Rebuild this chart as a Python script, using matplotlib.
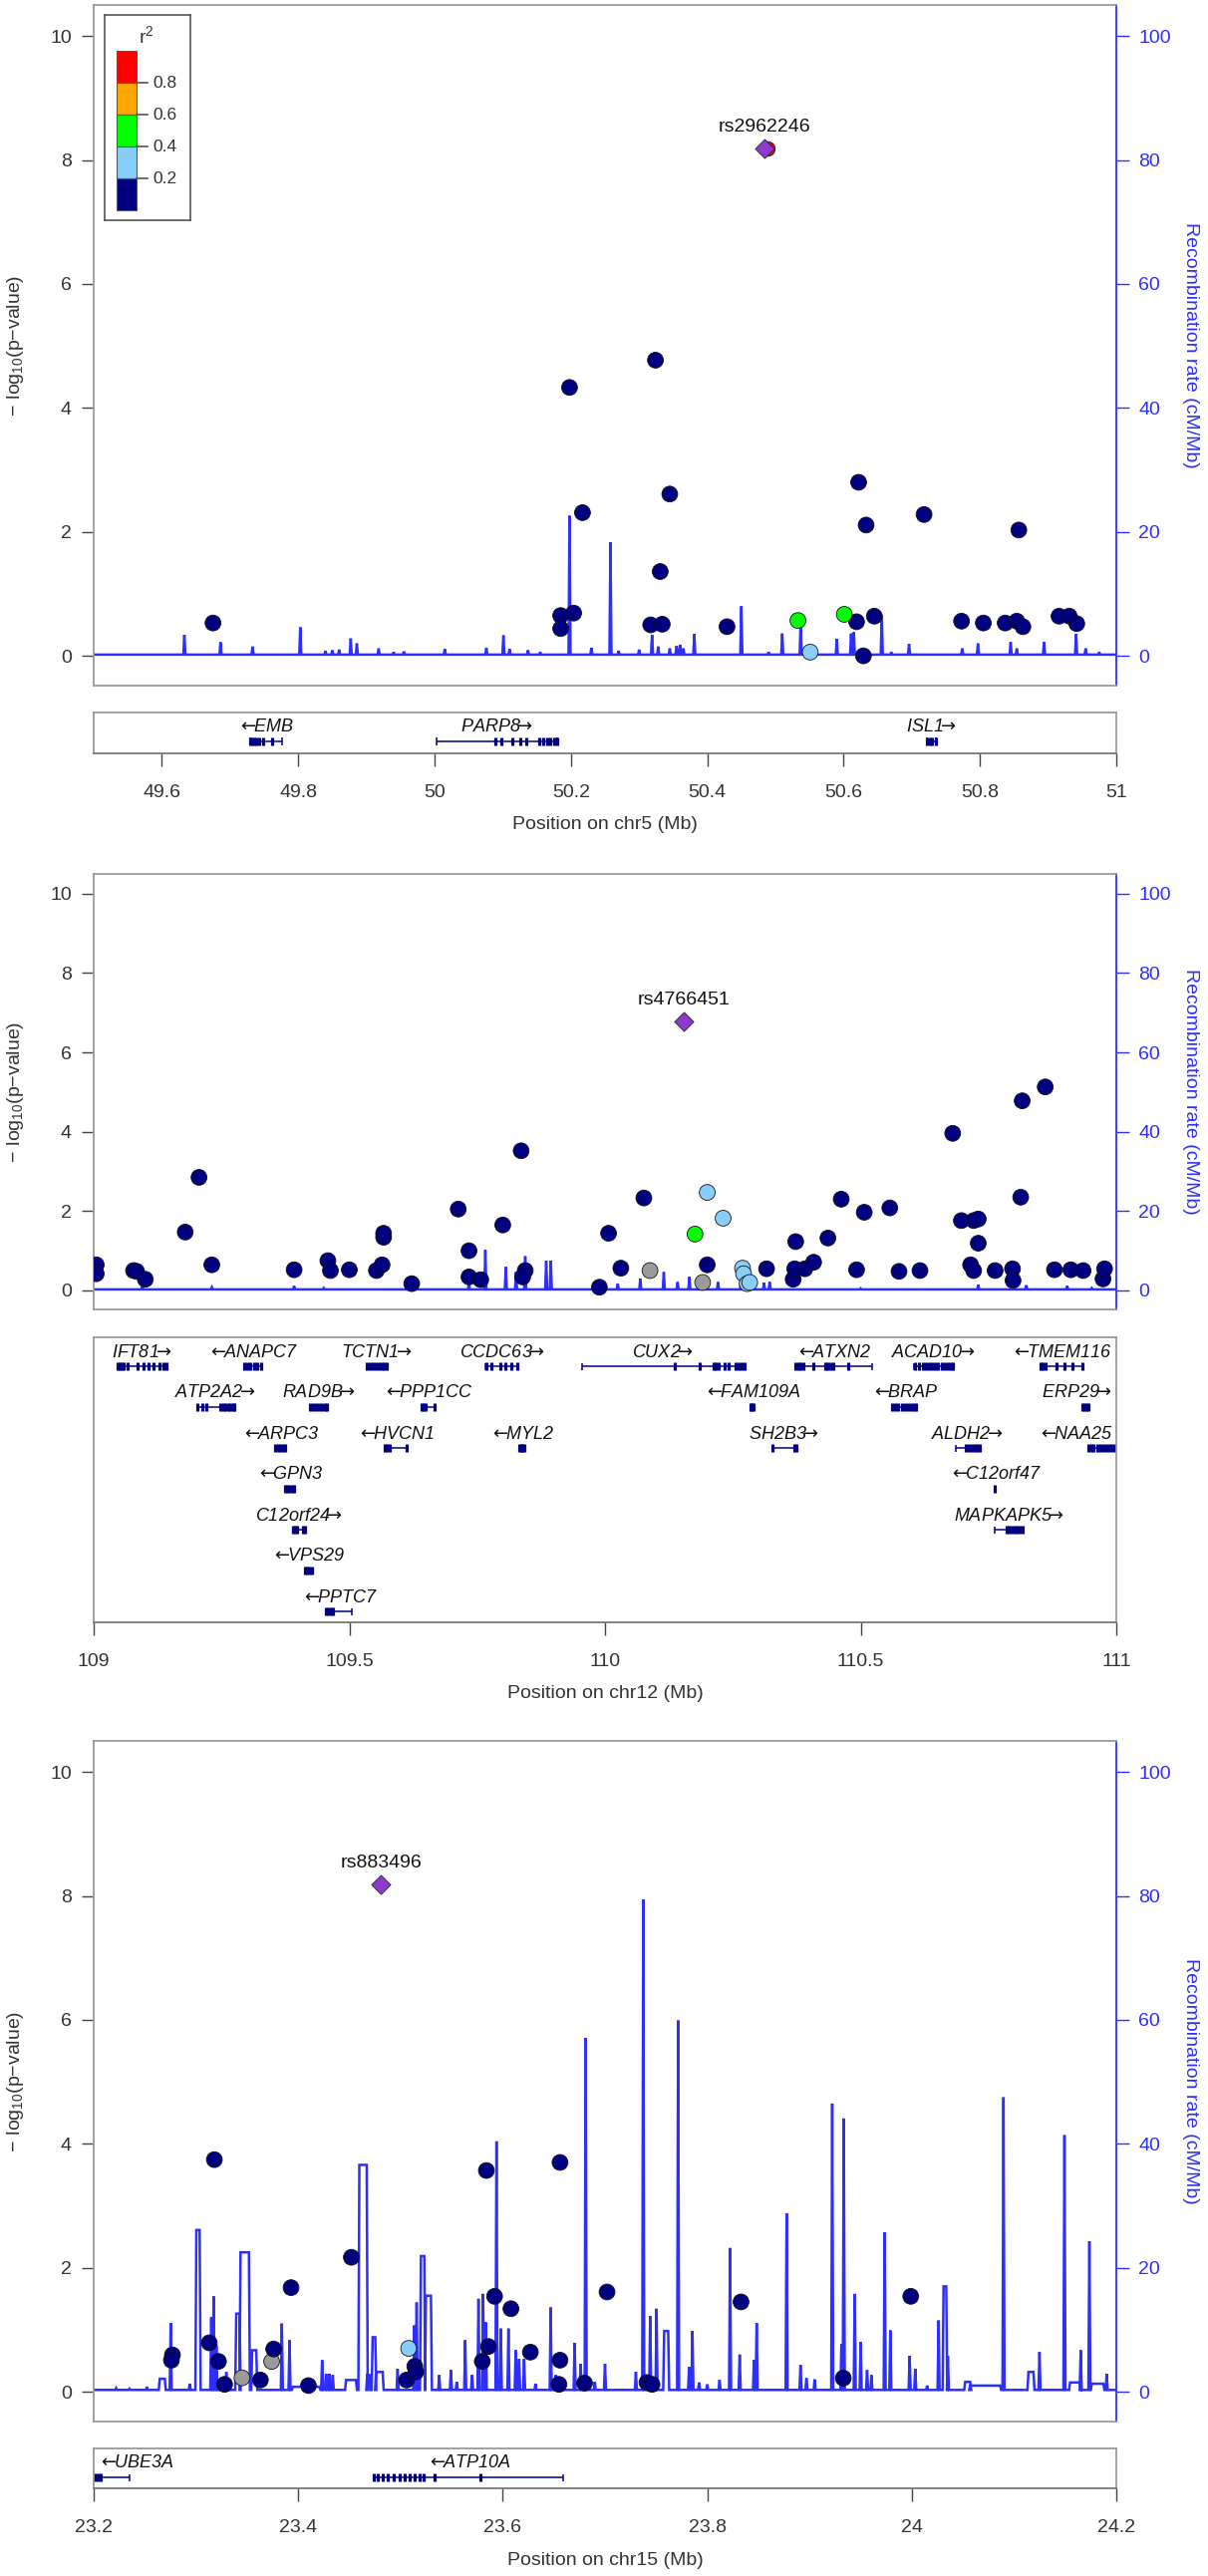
import numpy as np
import matplotlib
matplotlib.use("Agg")
import matplotlib.pyplot as plt
from matplotlib.patches import Rectangle

plt.rcParams['font.family'] = ['Liberation Sans', 'DejaVu Sans']

# ------------------------------------------------------------------ data
# ---- panel 1 : chr5
chr5_pos = [49.675, 50.185, 50.185, 50.204, 50.198, 50.217, 50.317, 50.334, 50.324, 50.331,
            50.345, 50.429, 50.533, 50.551, 50.601, 50.619, 50.622, 50.629, 50.633, 50.645,
            50.718, 50.773, 50.805, 50.837, 50.854, 50.857, 50.863, 50.916, 50.931, 50.942]
chr5_logp = [0.53, 0.65, 0.44, 0.69, 4.33, 2.31, 0.50, 0.51, 4.77, 1.36,
             2.61, 0.47, 0.57, 0.06, 0.67, 0.55, 2.80, 0.00, 2.11, 0.64,
             2.28, 0.56, 0.53, 0.53, 0.56, 2.03, 0.47, 0.64, 0.64, 0.52]
chr5_r2 = [0.05] * 12 + [0.5, 0.3, 0.5] + [0.05] * 15
chr5_lead_pos, chr5_lead_logp, chr5_lead_name = 50.484, 8.18, "rs2962246"
chr5_rec_base = 0.2
chr5_rec_spikes = [(49.633, 3.4), (49.686, 2.2), (49.733, 1.5), (49.803, 4.6), (49.84, 0.8),
                   (49.85, 0.9), (49.86, 1.0), (49.877, 2.8), (49.886, 2.0), (49.918, 1.2),
                   (49.94, 0.6), (49.955, 0.7), (50.015, 1.1), (50.076, 1.3), (50.101, 3.3),
                   (50.11, 1.1), (50.137, 0.9), (50.155, 0.6), (50.198, 22.6), (50.23, 1.3),
                   (50.258, 18.3), (50.27, 0.8), (50.30, 1.0), (50.319, 3.4), (50.328, 1.5),
                   (50.345, 1.2), (50.355, 1.6), (50.36, 1.8), (50.365, 1.2), (50.381, 3.5),
                   (50.450, 8.0), (50.49, 0.6), (50.51, 3.6), (50.537, 5.2), (50.59, 2.7),
                   (50.611, 3.6), (50.615, 3.8), (50.656, 6.6), (50.67, 0.6), (50.696, 1.9),
                   (50.774, 1.2), (50.797, 2.0), (50.845, 2.2), (50.854, 1.2), (50.894, 2.2),
                   (50.941, 3.5), (50.955, 1.2), (50.975, 0.6)]
chr5_gene_names = ["EMB", "PARP8", "ISL1"]
chr5_gene_start = [49.729, 50.003, 50.722]
chr5_gene_end = [49.776, 50.180, 50.735]
chr5_gene_strand = ["-", "+", "+"]
chr5_gene_row = [0, 0, 0]
chr5_gene_exons = [[49.729, 49.732, 49.735, 49.738, 49.742, 49.748, 49.762],
                   [50.089, 50.098, 50.114, 50.125, 50.134, 50.153, 50.16, 50.165, 50.17, 50.175, 50.18],
                   [50.722, 50.726, 50.73, 50.735]]

# ---- panel 2 : chr12
chr12_pos = [109.005, 109.005, 109.078, 109.084, 109.101, 109.179, 109.206, 109.231, 109.392, 109.458,
             109.463, 109.500, 109.553, 109.564, 109.567, 109.567, 109.622, 109.713, 109.734, 109.734,
             109.757, 109.800, 109.836, 109.844, 109.839, 109.989, 110.007, 110.031, 110.076, 110.088,
             110.176, 110.191, 110.200, 110.200, 110.231, 110.269, 110.271, 110.278, 110.283, 110.316,
             110.368, 110.371, 110.373, 110.391, 110.408, 110.436, 110.462, 110.492, 110.507, 110.557,
             110.575, 110.616, 110.680, 110.697, 110.721, 110.730, 110.730, 110.715, 110.721, 110.763,
             110.797, 110.798, 110.813, 110.816, 110.861, 110.879, 110.911, 110.935, 110.974, 110.977]
chr12_logp = [0.645, 0.42, 0.50, 0.48, 0.28, 1.47, 2.85, 0.645, 0.52, 0.75,
              0.50, 0.52, 0.50, 0.645, 1.34, 1.44, 0.17, 2.05, 1.00, 0.34,
              0.27, 1.65, 3.52, 0.50, 0.34, 0.08, 1.44, 0.56, 2.33, 0.50,
              1.42, 0.20, 2.47, 0.645, 1.82, 0.56, 0.42, 0.17, 0.20, 0.545,
              0.28, 0.545, 1.23, 0.545, 0.71, 1.32, 2.30, 0.52, 1.97, 2.08,
              0.48, 0.50, 3.96, 1.76, 1.76, 1.80, 1.19, 0.645, 0.50, 0.50,
              0.545, 0.25, 2.35, 4.78, 5.13, 0.52, 0.52, 0.50, 0.29, 0.545]
chr12_r2 = ([0.05] * 29 + [np.nan, 0.5, np.nan, 0.3, 0.05, 0.3, 0.3, 0.3, 0.3, 0.3]
            + [0.05] * 31)
chr12_lead_pos, chr12_lead_logp, chr12_lead_name = 110.154, 6.79, "rs4766451"
chr12_rec_base = 0.25
chr12_rec_spikes = [(109.095, 1.3), (109.231, 0.8), (109.392, 1.1), (109.45, 0.6), (109.734, 1.7),
                    (109.766, 10.2), (109.806, 5.9), (109.826, 4.6), (109.844, 8.6), (109.885, 7.5),
                    (109.894, 7.5), (110.025, 1.7), (110.069, 2.9), (110.115, 4.6), (110.142, 2.1),
                    (110.165, 3.4), (110.183, 2.1), (110.221, 2.1), (110.266, 2.1), (110.311, 1.9),
                    (110.322, 2.1), (110.50, 0.5), (110.73, 1.4), (110.824, 1.3), (110.904, 1.1),
                    (110.952, 0.6)]
chr12_gene_names = ["IFT81", "ANAPC7", "TCTN1", "CCDC63", "CUX2", "ATXN2", "ACAD10", "TMEM116",
                    "ATP2A2", "RAD9B", "PPP1CC", "FAM109A", "BRAP", "ERP29",
                    "ARPC3", "HVCN1", "MYL2", "SH2B3", "ALDH2", "NAA25",
                    "GPN3", "C12orf47", "C12orf24", "MAPKAPK5", "VPS29", "PPTC7"]
chr12_gene_start = [109.046, 109.295, 109.534, 109.767, 109.955, 110.372, 110.605, 110.852,
                    109.202, 109.423, 109.641, 110.284, 110.562, 110.934,
                    109.355, 109.569, 109.832, 110.327, 110.686, 110.946,
                    109.374, 110.762, 109.389, 110.763, 109.413, 109.455]
chr12_gene_end = [109.142, 109.327, 109.573, 109.830, 110.272, 110.522, 110.680, 110.934,
                  109.275, 109.456, 109.666, 110.290, 110.609, 110.946,
                  109.375, 109.613, 109.842, 110.374, 110.732, 110.998,
                  109.392, 110.764, 109.413, 110.816, 109.426, 109.505]
chr12_gene_strand = ["+", "-", "+", "+", "+", "-", "+", "-",
                     "+", "+", "-", "-", "-", "+",
                     "-", "-", "-", "+", "+", "-",
                     "-", "-", "+", "+", "-", "-"]
chr12_gene_row = [0, 0, 0, 0, 0, 0, 0, 0,
                  1, 1, 1, 1, 1, 1,
                  2, 2, 2, 2, 2, 2,
                  3, 3, 4, 4, 5, 6]
chr12_gene_exons = [
    [109.046, 109.05, 109.054, 109.059, 109.067, 109.086, 109.098, 109.107, 109.117, 109.128, 109.137, 109.142],
    [109.295, 109.30, 109.306, 109.313, 109.32, 109.327],
    [109.534, 109.54, 109.546, 109.552, 109.558, 109.563, 109.568, 109.573],
    [109.768, 109.778, 109.796, 109.805, 109.817, 109.828],
    [110.136, 110.186, 110.212, 110.217, 110.222, 110.234, 110.242, 110.256, 110.262, 110.267, 110.272],
    [110.373, 110.378, 110.383, 110.388, 110.407, 110.43, 110.435, 110.44, 110.446, 110.476],
    [110.606, 110.615, 110.622, 110.628, 110.634, 110.64, 110.646, 110.652, 110.658, 110.664, 110.67, 110.676, 110.68],
    [110.852, 110.856, 110.861, 110.884, 110.899, 110.915, 110.934],
    [109.202, 109.213, 109.221, 109.248, 109.253, 109.258, 109.263, 109.268, 109.272, 109.275],
    [109.423, 109.428, 109.434, 109.44, 109.447, 109.452, 109.456],
    [109.641, 109.645, 109.649, 109.666],
    [110.284, 110.287, 110.29],
    [110.562, 110.567, 110.573, 110.58, 110.586, 110.592, 110.598, 110.604, 110.609],
    [110.934, 110.938, 110.942, 110.946],
    [109.355, 109.36, 109.365, 109.37, 109.375],
    [109.569, 109.574, 109.579, 109.613],
    [109.832, 109.836, 109.839, 109.842],
    [110.327, 110.371, 110.374],
    [110.705, 110.711, 110.717, 110.723, 110.728, 110.732],
    [110.946, 110.951, 110.956, 110.962, 110.968, 110.974, 110.98, 110.986, 110.992, 110.998],
    [109.374, 109.378, 109.383, 109.388, 109.392],
    [110.763],
    [109.389, 109.393, 109.397, 109.41, 109.413],
    [110.786, 110.79, 110.796, 110.801, 110.806, 110.811, 110.816],
    [109.413, 109.417, 109.421, 109.426],
    [109.455, 109.459, 109.463, 109.468],
]

# ---- panel 3 : chr15
chr15_pos = [23.318, 23.584, 23.656, 23.452, 23.393, 23.592, 23.608, 23.702, 23.833, 23.999,
             23.313, 23.277, 23.276, 23.322, 23.328, 23.345, 23.363, 23.374, 23.376, 23.410,
             23.508, 23.506, 23.514, 23.515, 23.580, 23.586, 23.627, 23.656, 23.655, 23.680,
             23.741, 23.746, 23.933]
chr15_logp = [3.745, 3.57, 3.70, 2.17, 1.68, 1.54, 1.34, 1.61, 1.45, 1.54,
              0.79, 0.595, 0.51, 0.49, 0.12, 0.225, 0.19, 0.49, 0.69, 0.10,
              0.70, 0.19, 0.41, 0.32, 0.49, 0.73, 0.64, 0.51, 0.12, 0.14,
              0.15, 0.12, 0.22]
chr15_r2 = ([0.05] * 15 + [np.nan, 0.05, np.nan, 0.05, 0.05, 0.3] + [0.05] * 12)
chr15_lead_pos, chr15_lead_logp, chr15_lead_name = 23.481, 8.18, "rs883496"
chr15_rec_base = 0.3
chr15_rec_spikes = [(23.222, 0.6), (23.235, 0.5), (23.252, 0.8),
                    (23.2646, 23.2695, 2.1), (23.2753, 11.1), (23.294, 1.3),
                    (23.3004, 23.3036, 26.1), (23.315, 12.0), (23.3173, 15.4), (23.320, 7.5),
                    (23.3297, 3.2), (23.3394, 23.3427, 12.6), (23.3436, 23.3518, 22.5),
                    (23.355, 23.359, 6.7), (23.384, 11.0), (23.3915, 8.3),
                    (23.3948, 23.4208, 0.8), (23.4234, 5.1), (23.4273, 2.9), (23.4305, 2.9),
                    (23.4338, 2.7), (23.4468, 23.4565, 1.9), (23.4598, 23.467, 36.6),
                    (23.4675, 23.4696, 2.7), (23.4728, 23.4754, 8.8), (23.4761, 23.4826, 3.2),
                    (23.4972, 3.7), (23.5135, 10.7), (23.5158, 14.4), (23.520, 23.5233, 21.9),
                    (23.5249, 23.5298, 15.5), (23.5379, 2.7), (23.5493, 3.5), (23.555, 1.6),
                    (23.5633, 8.3), (23.570, 2.7), (23.5763, 15.0), (23.5808, 15.8),
                    (23.5834, 11.2), (23.5939, 40.4), (23.5981, 10.2), (23.6056, 10.2),
                    (23.6127, 6.7), (23.616, 5.3), (23.6209, 5.3), (23.632, 1.3),
                    (23.6469, 13.6), (23.652, 2.7), (23.6703, 7.9), (23.6762, 4.5),
                    (23.6811, 57.1), (23.690, 1.6), (23.700, 4.5), (23.7302, 3.2),
                    (23.7374, 79.4), (23.7442, 12.2), (23.7504, 13.4), (23.7579, 23.7618, 9.8),
                    (23.7715, 59.9), (23.7822, 4.0), (23.7855, 9.8), (23.792, 1.5),
                    (23.800, 1.2), (23.812, 1.9), (23.8223, 23.2), (23.8317, 6.0),
                    (23.8457, 5.1), (23.8483, 11.1), (23.8776, 28.8), (23.8912, 4.3),
                    (23.897, 2.2), (23.905, 2.0), (23.9222, 46.5), (23.9312, 7.7),
                    (23.9335, 44.1), (23.9442, 15.8), (23.950, 8.0), (23.9563, 3.5),
                    (23.9605, 2.7), (23.9735, 25.7), (23.979, 9.9), (23.9979, 5.8),
                    (24.0034, 3.7), (24.015, 1.0), (24.0262, 11.5), (24.0311, 24.0337, 17.0),
                    (24.0353, 5.8), (24.0522, 24.0571, 1.6), (24.0571, 24.0864, 1.0),
                    (24.0897, 47.5), (24.1141, 24.119, 3.2), (24.1249, 6.4),
                    (24.1493, 41.4), (24.1548, 24.1646, 1.5), (24.1652, 6.7),
                    (24.1737, 24.3), (24.176, 24.1874, 1.3), (24.1906, 2.9)]
chr15_gene_names = ["UBE3A", "ATP10A"]
chr15_gene_start = [23.200, 23.474]
chr15_gene_end = [23.235, 23.659]
chr15_gene_strand = ["-", "-"]
chr15_gene_row = [0, 0]
chr15_gene_exons = [[23.201, 23.204, 23.207],
                    [23.474, 23.478, 23.483, 23.488, 23.493, 23.499, 23.504, 23.509, 23.514,
                     23.519, 23.523, 23.533, 23.578]]

legend_breaks = [0.2, 0.4, 0.6, 0.8]

# ------------------------------------------------------------------ style
W, H = 1212, 2585
NAVY = '#000080'
LBLUE = '#87CEFA'
GREEN = '#00FF00'
ORANGE = '#FFA500'
RED = '#FF0000'
GRAY = '#9A9A9A'
PURPLE = '#8E3ACF'
RECBLUE = '#2E2EFF'
AXBLUE = '#2E2EFF'
FRAME = '#9A9A9A'
TXT = '#333333'
TICK = '#444444'
LEG_COLORS = [NAVY, LBLUE, GREEN, ORANGE, RED]

fig = plt.figure(figsize=(W / 100, H / 100), dpi=100)


def rect(l, r, t, b):
    return [l / W, 1 - b / H, (r - l) / W, (b - t) / H]


def r2color(v):
    if v is None or np.isnan(v):
        return GRAY
    for c, b in zip(LEG_COLORS, legend_breaks):
        if v < b:
            return c
    return RED


def rec_line(xlim, base, spikes, hw):
    xs, ys = [xlim[0]], [base]
    for s in sorted(spikes, key=lambda z: z[0]):
        if len(s) == 2:
            a = b = s[0]
            v = s[1]
        else:
            a, b, v = s
        xs += [a - hw, a, b, b + hw]
        ys += [base, v, v, base]
    xs.append(xlim[1])
    ys.append(base)
    return np.array(xs), np.array(ys)


L, R = 94, 1120
YLIM = (-0.48, 10.5)


def main_panel(top, bottom, xlim, pos, logp, r2, lead_pos, lead_logp, lead_name,
               base, spikes, red_under=False):
    ax = fig.add_axes(rect(L, R, top, bottom))
    ax2 = ax.twinx()
    ax.set_zorder(ax2.get_zorder() + 1)
    ax.patch.set_visible(False)
    ax.set_xlim(xlim)
    ax.set_ylim(YLIM)
    ax2.set_ylim(YLIM[0] * 10, YLIM[1] * 10)
    ax.set_xticks([])
    ax.set_yticks(range(0, 11, 2))
    ax2.set_yticks(range(0, 101, 20))
    ax.tick_params(axis='y', length=9, width=1, color=TICK, labelcolor=TXT,
                   labelsize=14, pad=7)
    ax2.tick_params(axis='y', length=9, width=1, color=AXBLUE, labelcolor=AXBLUE,
                    labelsize=14, pad=7)
    for s in ['left', 'top', 'bottom']:
        ax.spines[s].set_color(FRAME)
        ax.spines[s].set_linewidth(1.3)
        ax2.spines[s].set_visible(False)
    ax.spines['right'].set_visible(False)
    ax2.spines['right'].set_color(AXBLUE)
    ax2.spines['right'].set_linewidth(1.3)

    span = xlim[1] - xlim[0]
    rx, ry = rec_line(xlim, base, spikes, span / (R - L) * 1.0)
    ax2.plot(rx, ry, color=RECBLUE, lw=1.8, zorder=1, solid_joinstyle='miter')

    pos = np.asarray(pos)
    logp = np.asarray(logp)
    r2 = np.asarray(r2, dtype=float)
    cols = [r2color(v) for v in r2]
    rank = np.where(np.isnan(r2), -1, r2)
    order = np.argsort(rank, kind='stable')
    ax.scatter(pos[order], logp[order], s=130, c=[cols[i] for i in order],
               edgecolors='#111111', linewidths=0.6, zorder=3)
    if red_under:
        ax.scatter([lead_pos + span * 0.003], [lead_logp], s=110, c=RED,
                   edgecolors='#111111', linewidths=0.6, zorder=4)
    ax.scatter([lead_pos], [lead_logp], s=95, marker='D', c=PURPLE,
               edgecolors='#222222', linewidths=0.6, zorder=5)
    ax.annotate(lead_name, (lead_pos, lead_logp), xytext=(0, 15.5),
                textcoords='offset points', ha='center', va='center',
                fontsize=14, color='#111111', zorder=6)

    yc = 1 - (top + bottom) / 2 / H
    fig.text(16 / W, yc, r'$\mathregular{-\ log_{10}(p{-}value)}$', rotation=90,
             ha='center', va='center', fontsize=14, color=TXT)
    fig.text(1194 / W, yc, 'Recombination rate (cM/Mb)', rotation=270,
             ha='center', va='center', fontsize=14, color=AXBLUE)
    return ax


gene_texts = []


def gene_panel(top, bottom, xlim, ticks, ticklabels, xlabel, xlabel_y,
               names, starts, ends, strands, rows, exons):
    gax = fig.add_axes(rect(L, R, top, bottom))
    h = bottom - top
    gax.set_xlim(xlim)
    gax.set_ylim(h, 0)
    gax.set_yticks([])
    gax.set_xticks(ticks)
    gax.set_xticklabels(ticklabels)
    gax.tick_params(axis='x', length=9.5, width=1, color=TICK, labelcolor=TXT,
                    labelsize=14, pad=13)
    for s in gax.spines.values():
        s.set_color(FRAME)
        s.set_linewidth(1.3)
    gax.spines['bottom'].set_color('#777777')
    for nm, a, b, st, rw, ex in zip(names, starts, ends, strands, rows, exons):
        by = 29 + 41 * rw
        ly = 15 + 41 * rw
        gax.hlines(by, a, b, color=NAVY, lw=1.1)
        gax.vlines([a, b], by - 3.5, by + 3.5, color=NAVY, lw=1.1)
        gax.vlines(ex, by - 4, by + 4, color=NAVY, lw=2.3)
        label = (r'$\leftarrow\!\!$' + nm) if st == '-' else (nm + r'$\!\!\rightarrow$')
        t = gax.text((a + b) / 2, ly, label, ha='center', va='center',
                     fontsize=13, style='italic', color='#111111')
        gene_texts.append((gax, t))
    fig.text(((L + R) / 2) / W, 1 - xlabel_y / H, xlabel, ha='center', va='center',
             fontsize=14, color=TXT)
    return gax


# ------------------------------------------------------------------ panels
main_panel(5, 688, (49.5, 51.0), chr5_pos, chr5_logp, chr5_r2,
           chr5_lead_pos, chr5_lead_logp, chr5_lead_name,
           chr5_rec_base, chr5_rec_spikes, red_under=True)
gene_panel(715, 756, (49.5, 51.0), [49.6, 49.8, 50.0, 50.2, 50.4, 50.6, 50.8, 51.0],
           ['49.6', '49.8', '50', '50.2', '50.4', '50.6', '50.8', '51'],
           'Position on chr5 (Mb)', 827,
           chr5_gene_names, chr5_gene_start, chr5_gene_end, chr5_gene_strand,
           chr5_gene_row, chr5_gene_exons)

main_panel(877, 1314, (109.0, 111.0), chr12_pos, chr12_logp, chr12_r2,
           chr12_lead_pos, chr12_lead_logp, chr12_lead_name,
           chr12_rec_base, chr12_rec_spikes)
gene_panel(1342, 1628, (109.0, 111.0), [109.0, 109.5, 110.0, 110.5, 111.0],
           ['109', '109.5', '110', '110.5', '111'],
           'Position on chr12 (Mb)', 1700,
           chr12_gene_names, chr12_gene_start, chr12_gene_end, chr12_gene_strand,
           chr12_gene_row, chr12_gene_exons)

main_panel(1747, 2430, (23.2, 24.2), chr15_pos, chr15_logp, chr15_r2,
           chr15_lead_pos, chr15_lead_logp, chr15_lead_name,
           chr15_rec_base, chr15_rec_spikes)
gene_panel(2457, 2497, (23.2, 24.2), [23.2, 23.4, 23.6, 23.8, 24.0, 24.2],
           ['23.2', '23.4', '23.6', '23.8', '24', '24.2'],
           'Position on chr15 (Mb)', 2569,
           chr15_gene_names, chr15_gene_start, chr15_gene_end, chr15_gene_strand,
           chr15_gene_row, chr15_gene_exons)

# ------------------------------------------------------------------ legend (top panel)
lax = fig.add_axes(rect(105, 191, 15, 221))
lax.set_xlim(105, 191)
lax.set_ylim(221, 15)
lax.set_xticks([])
lax.set_yticks([])
for s in lax.spines.values():
    s.set_color('#555555')
    s.set_linewidth(1.2)
seg_top = 51
seg_h = 32
for i, c in enumerate(reversed(LEG_COLORS)):
    lax.add_patch(Rectangle((117, seg_top + i * seg_h), 20, seg_h, facecolor=c,
                            edgecolor='#555555', lw=0.8))
for i, b in enumerate(reversed(legend_breaks)):
    yb = seg_top + (i + 1) * seg_h
    lax.plot([137, 148], [yb, yb], color='#555555', lw=1.2)
    lax.text(153, yb, f'{b:.1f}', ha='left', va='center', fontsize=12.5, color=TXT)
lax.text(147, 36, r'$\mathregular{r^2}$', ha='center', va='center', fontsize=14, color=TXT)

# ------------------------------------------------------------------ keep gene labels inside
fig.canvas.draw()
rend = fig.canvas.get_renderer()
for gax, t in gene_texts:
    bb = t.get_window_extent(rend)
    ab = gax.get_window_extent(rend)
    shift = 0.0
    if bb.x1 > ab.x1 - 4:
        shift = (ab.x1 - 4) - bb.x1
    if bb.x0 + shift < ab.x0 + 4:
        shift = (ab.x0 + 4) - bb.x0
    if shift != 0.0:
        x, y = t.get_position()
        xd, yd = gax.transData.transform((x, y))
        nx, _ = gax.transData.inverted().transform((xd + shift, yd))
        t.set_x(nx)

fig.savefig('out.png', dpi=100, facecolor='white')
